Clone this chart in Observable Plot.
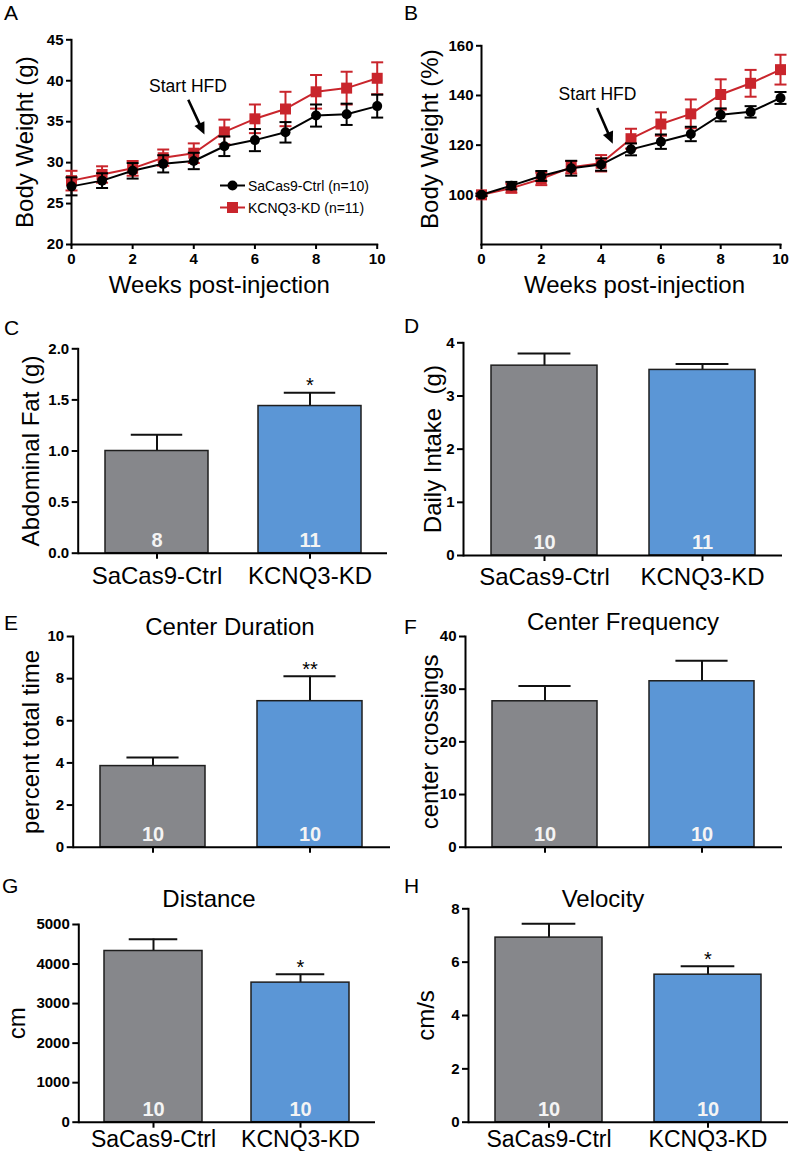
<!DOCTYPE html>
<html>
<head>
<meta charset="utf-8">
<script src="https://cdn.jsdelivr.net/npm/d3@7"></script>
<script src="https://cdn.jsdelivr.net/npm/@observablehq/plot@0.6"></script>
<style>
  html, body { margin: 0; padding: 0; background: #fff; overflow: hidden; }
  #root { position: relative; width: 790px; height: 1151px; font-family: 'Liberation Sans', Arial, Helvetica, sans-serif; }
  #root svg { position: absolute; }
  #root text { white-space: pre; }
  #root g[aria-label="y-axis tick label"] text,
  #root g[aria-label="y-axis tick label"] { font-weight: bold; }
  #root svg.lc g[aria-label="x-axis tick label"] text,
  #root svg.lc g[aria-label="x-axis tick label"] { font-weight: bold; }
</style>
</head>
<body>
<div id="root"></div>
<script>
// ---------------- DATA ----------------
const weeks = [0, 1, 2, 3, 4, 5, 6, 7, 8, 9, 10];
const weekTicks = [0, 2, 4, 6, 8, 10];
const seriesNames = ["SaCas9-Ctrl (n=10)", "KCNQ3-KD (n=11)"];

const ctrlWeight    = [27.1, 27.8, 29.0, 29.85, 30.2, 32.0, 32.75, 33.7, 35.75, 35.9, 36.9];
const ctrlWeightErr = [1.1, 0.9, 0.95, 1.05, 1.0, 1.2, 1.35, 1.25, 1.35, 1.3, 1.4];
const kdWeight      = [27.8, 28.55, 29.3, 30.6, 31.15, 33.75, 35.35, 36.55, 38.65, 39.1, 40.3];
const kdWeightErr   = [1.2, 1.0, 0.9, 1.0, 1.2, 1.5, 1.75, 2.1, 2.05, 2.0, 1.95];
const weightTicks   = [20, 25, 30, 35, 40, 45];

const ctrlPct    = [100, 103.7, 107.6, 110.7, 112.2, 118.3, 121.4, 124.5, 132.2, 133.4, 139.0];
const ctrlPctErr = [0.5, 1.5, 2.0, 3.0, 2.5, 2.4, 2.9, 2.9, 2.6, 2.3, 2.4];
const kdPct      = [100, 102.7, 106.4, 111.1, 112.7, 122.6, 128.5, 132.6, 140.4, 144.9, 150.4];
const kdPctErr   = [0.5, 1.8, 2.5, 2.5, 3.3, 4.0, 4.7, 5.8, 6.1, 5.4, 6.0];
const pctTicks   = [100, 120, 140, 160];

// "Start HFD" annotations (data units)
const hfdNoteA  = {label: "Start HFD", x: 3.81, y: 39.3, x1: 3.82, y1: 37.67, x2: 4.35, y2: 33.43};
const hfdNoteB  = {label: "Start HFD", x: 3.88, y: 140.4, x1: 3.87, y1: 135.0, x2: 4.39, y2: 120.55};

const groups = ["SaCas9-Ctrl", "KCNQ3-KD"];

const fatMean = [1.0, 1.44],   fatErr = [0.16, 0.13],  fatN = [8, 11],   fatStars = ["", "*"];
const fatTicks = [0, 0.5, 1.0, 1.5, 2.0];
const intakeMean = [3.57, 3.49], intakeErr = [0.23, 0.11], intakeN = [10, 11], intakeStars = ["", ""];
const intakeTicks = [0, 1, 2, 3, 4];
const durMean = [3.85, 6.93],  durErr = [0.41, 1.18],  durN = [10, 10],  durStars = ["", "**"];
const durTicks = [0, 2, 4, 6, 8, 10];
const freqMean = [27.7, 31.5], freqErr = [2.9, 3.9],   freqN = [10, 10], freqStars = ["", ""];
const freqTicks = [0, 10, 20, 30, 40];
const distMean = [4330, 3530], distErr = [300, 210],   distN = [10, 10], distStars = ["", "*"];
const distTicks = [0, 1000, 2000, 3000, 4000, 5000];
const velMean = [6.92, 5.53],  velErr = [0.52, 0.32],  velN = [10, 10],  velStars = ["", "*"];
const velTicks = [0, 2, 4, 6, 8];

// ---------------- STYLE ----------------
const FONT = "'Liberation Sans', Arial, Helvetica, sans-serif";
const RED = "#c9252c";
const GRAY = "#86878b";
const BLUE = "#5b96d6";
const TICKFONT = 15;
const root = document.getElementById("root");

function place(svg, left, top) {
  svg.style.left = left + "px";
  svg.style.top = top + "px";
  root.appendChild(svg);
}

// horizontal cap symbol (half-width = r)
const capSymbol = {
  draw(ctx, size) {
    const r = Math.sqrt(size / Math.PI);
    ctx.moveTo(-r, 0); ctx.lineTo(r, 0);
  }
};
// filled arrow head, tip at origin, pointing along angle (deg from vertical-down toward right)
function arrowHead(angleDeg, len, half) {
  const a = angleDeg * Math.PI / 180, ux = Math.sin(a), uy = Math.cos(a);
  const px = -uy, py = ux;
  return {
    draw(ctx) {
      const bx = -ux * len, by = -uy * len;
      ctx.moveTo(0, 0);
      ctx.lineTo(bx + px * half, by + py * half);
      ctx.lineTo(bx - px * half, by - py * half);
      ctx.closePath();
    }
  };
}

function margins(p) {
  return {
    width: p.width, height: p.height,
    marginLeft: p.x0 - p.left,
    marginRight: p.left + p.width - p.x1,
    marginTop: p.yTop - p.top,
    marginBottom: p.top + p.height - p.yBot
  };
}

function rowsOf(vals, errs) {
  return weeks.map((w, i) => ({week: w, v: vals[i], lo: vals[i] - errs[i], hi: vals[i] + errs[i]}));
}

function seriesMarks(rows, color, symbol, r) {
  return [
    Plot.ruleX(rows, {x: "week", y1: "lo", y2: "hi", stroke: color, strokeWidth: 2}),
    Plot.dot(rows, {x: "week", y: "lo", symbol: capSymbol, r: 6, stroke: color, strokeWidth: 2, fill: "none"}),
    Plot.dot(rows, {x: "week", y: "hi", symbol: capSymbol, r: 6, stroke: color, strokeWidth: 2, fill: "none"}),
    Plot.line(rows, {x: "week", y: "v", stroke: color, strokeWidth: 2}),
    Plot.dot(rows, {x: "week", y: "v", symbol, r, fill: color, stroke: "none"})
  ];
}

function lineChart(p) {
  const ctrl = rowsOf(p.ctrl, p.ctrlErr);
  const kd = rowsOf(p.kd, p.kdErr);
  const n = p.note;
  const shaft = {x1: n.x1, y1: n.y1, x2: n.x1 + 0.8 * (n.x2 - n.x1), y2: n.y1 + 0.8 * (n.y2 - n.y1)};
  const svg = Plot.plot({
    ...margins(p),
    className: "lc",
    x: {domain: [0, 10], label: null},
    y: {domain: p.domain, label: null},
    style: {fontFamily: FONT, background: "transparent", color: "#000", overflow: "visible"},
    marks: [
      Plot.axisY({ticks: p.yTicks, tickSize: 5, tickPadding: 3, fontSize: TICKFONT, fontWeight: "bold", strokeWidth: 2, label: null}),
      Plot.axisX({ticks: weekTicks, tickSize: 5, tickPadding: 4, fontSize: TICKFONT, fontWeight: "bold", strokeWidth: 2, label: null}),
      Plot.frame({anchor: "left", strokeWidth: 2}),
      Plot.frame({anchor: "bottom", strokeWidth: 2}),
      Plot.text([p.ylabel], {frameAnchor: "left", dx: p.ylabelX - p.x0, dy: p.ylabelDy || 0, rotate: -90, textAnchor: "middle", fontSize: 24}),
      Plot.text(["Weeks post-injection"], {frameAnchor: "bottom", dx: p.xlabelDx, dy: 31, lineAnchor: "top", textAnchor: "middle", fontSize: 24}),
      ...seriesMarks(kd, RED, "square", 6.2),
      ...seriesMarks(ctrl, "#000", "circle", 5),
      Plot.text([n], {x: "x", y: "y", text: "label", fontSize: 17.5}),
      Plot.link([shaft], {x1: "x1", y1: "y1", x2: "x2", y2: "y2", stroke: "#000", strokeWidth: 2.6}),
      Plot.dot([n], {x: "x2", y: "y2", symbol: arrowHead(p.arrowAngle, 12, 5.5), r: 5, fill: "#000", stroke: "none"})
    ]
  });
  place(svg, p.left, p.top);
}

function barChart(p) {
  const rows = groups.map((g, i) => ({group: g, mean: p.mean[i], errTop: p.mean[i] + p.err[i], n: String(p.n[i]), star: p.stars[i]}));
  const pi = 0.33, po = 0.17;
  const step = (p.x1 - p.x0) / (groups.length - pi + 2 * po);
  const bw = step * (1 - pi);
  const svg = Plot.plot({
    ...margins(p),
    x: {type: "band", domain: groups, paddingInner: pi, paddingOuter: po, label: null},
    y: {domain: p.domain, label: null},
    color: {domain: groups, range: [GRAY, BLUE]},
    style: {fontFamily: FONT, background: "transparent", color: "#000", overflow: "visible"},
    marks: [
      Plot.axisY({ticks: p.ticks, tickFormat: p.tickFormat, tickSize: 6, tickPadding: 3, fontSize: TICKFONT, fontWeight: "bold", strokeWidth: 2, label: null}),
      Plot.axisX({tickSize: 6, tickPadding: p.catPad || 4, fontSize: p.catSize || 24, strokeWidth: 2, label: null,
                  tickFormat: p.showCats ? (d => d) : (() => "")}),
      Plot.ruleX(rows, {x: "group", y1: "mean", y2: "errTop", stroke: "#111", strokeWidth: 2}),
      Plot.tickY(rows, {x: "group", y: "errTop", insetLeft: bw / 4, insetRight: bw / 4, stroke: "#111", strokeWidth: 2}),
      Plot.barY(rows, {x: "group", y: "mean", fill: "group", stroke: "#1e1e1e", strokeWidth: 1.5, inset: 0}),
      Plot.frame({anchor: "left", strokeWidth: 2}),
      Plot.ruleY([p.domain[0]], {strokeWidth: 2}),
      Plot.text(rows, {x: "group", y: () => p.domain[0], text: "n", dy: -13, fill: "#f4f4f4", fontWeight: "bold", fontSize: 20}),
      Plot.text(rows, {x: "group", y: "errTop", text: "star", dy: -7, fontSize: 20}),
      Plot.text([p.ylabel], {frameAnchor: "left", dx: p.ylabelX - p.x0, dy: p.ylabelDy || 0, rotate: -90, textAnchor: "middle", fontSize: 24})
    ]
  });
  place(svg, p.left, p.top);
}

// ---------------- PANELS ----------------
lineChart({left: 0, top: 0, width: 395, height: 300, x0: 71, x1: 376.7, yTop: 39.3, yBot: 244,
  domain: [20, 45], yTicks: weightTicks, ctrl: ctrlWeight, ctrlErr: ctrlWeightErr, kd: kdWeight, kdErr: kdWeightErr,
  ylabel: "Body Weight (g)", ylabelX: 24.5, ylabelDy: 0, xlabelDx: -5, note: hfdNoteA, arrowAngle: 25});

lineChart({left: 400, top: 0, width: 390, height: 300, x0: 481, x1: 780, yTop: 45.3, yBot: 244,
  domain: [80, 160], yTicks: pctTicks, ctrl: ctrlPct, ctrlErr: ctrlPctErr, kd: kdPct, kdErr: kdPctErr,
  ylabel: "Body Weight (%)", ylabelX: 429.5, ylabelDy: -6, xlabelDx: 3.5, note: hfdNoteB, arrowAngle: 23.4});

barChart({left: 0, top: 300, width: 395, height: 290, x0: 77.7, x1: 387, yTop: 348.3, yBot: 552.7,
  domain: [0, 2], ticks: fatTicks, tickFormat: d3.format(".1f"), mean: fatMean, err: fatErr, n: fatN, stars: fatStars,
  ylabel: "Abdominal Fat (g)", ylabelX: 31, showCats: true, catPad: 8});

barChart({left: 400, top: 300, width: 390, height: 290, x0: 463, x1: 782, yTop: 342.3, yBot: 555,
  domain: [0, 4], ticks: intakeTicks, tickFormat: d3.format("d"), mean: intakeMean, err: intakeErr, n: intakeN, stars: intakeStars,
  ylabel: "Daily Intake  (g)", ylabelX: 433, showCats: true, catPad: 6});

barChart({left: 0, top: 590, width: 395, height: 280, x0: 72.7, x1: 390, yTop: 636, yBot: 846.7,
  domain: [0, 10], ticks: durTicks, tickFormat: d3.format("d"), mean: durMean, err: durErr, n: durN, stars: durStars,
  ylabel: "percent total time", ylabelX: 31, showCats: false});

barChart({left: 400, top: 590, width: 390, height: 280, x0: 465, x1: 782, yTop: 636, yBot: 846.7,
  domain: [0, 40], ticks: freqTicks, tickFormat: d3.format("d"), mean: freqMean, err: freqErr, n: freqN, stars: freqStars,
  ylabel: "center crossings", ylabelX: 429.5, showCats: false});

barChart({left: 0, top: 870, width: 395, height: 281, x0: 78.3, x1: 375, yTop: 924, yBot: 1121.7,
  domain: [0, 5000], ticks: distTicks, tickFormat: d3.format("d"), mean: distMean, err: distErr, n: distN, stars: distStars,
  ylabel: "cm", ylabelX: 17, showCats: true, catPad: 2, catSize: 23});

barChart({left: 400, top: 870, width: 390, height: 281, x0: 468, x1: 788, yTop: 908.3, yBot: 1121.7,
  domain: [0, 8], ticks: velTicks, tickFormat: d3.format("d"), mean: velMean, err: velErr, n: velN, stars: velStars,
  ylabel: "cm/s", ylabelX: 426, showCats: true, catPad: 2, catSize: 23});

// ---------------- OVERLAY: panel letters, titles, legend ----------------
const NS = "http://www.w3.org/2000/svg";
const ov = document.createElementNS(NS, "svg");
ov.setAttribute("width", 790); ov.setAttribute("height", 1151);
ov.style.left = "0px"; ov.style.top = "0px"; ov.style.pointerEvents = "none";
ov.style.fontFamily = FONT;
root.appendChild(ov);
function addText(str, x, y, size, anchor) {
  const t = document.createElementNS(NS, "text");
  t.setAttribute("x", x); t.setAttribute("y", y);
  t.setAttribute("font-size", size); t.setAttribute("text-anchor", anchor || "start");
  t.setAttribute("fill", "#000");
  t.textContent = str; ov.appendChild(t);
}
function addEl(tag, attrs) {
  const e = document.createElementNS(NS, tag);
  for (const k in attrs) e.setAttribute(k, attrs[k]);
  ov.appendChild(e);
}
const panelLetters = [["A", 4, 20], ["B", 404, 20], ["C", 4, 335], ["D", 404, 333],
                      ["E", 4, 630], ["F", 404, 634], ["G", 2, 893], ["H", 404, 893]];
panelLetters.forEach(([s, x, y]) => addText(s, x, y, 21));
const titles = [["Center Duration", 230, 635], ["Center Frequency", 623, 630], ["Distance", 209, 907], ["Velocity", 603, 907]];
titles.forEach(([s, x, y]) => addText(s, x, y, 24, "middle"));

// legend (panel A)
addEl("line", {x1: 220, x2: 245, y1: 185.5, y2: 185.5, stroke: "#000", "stroke-width": 2});
addEl("circle", {cx: 232.5, cy: 185.5, r: 5, fill: "#000"});
addText(seriesNames[0], 248, 190.5, 14);
addEl("line", {x1: 220, x2: 245, y1: 207.5, y2: 207.5, stroke: RED, "stroke-width": 2});
addEl("rect", {x: 227, y: 202, width: 11, height: 11, fill: RED});
addText(seriesNames[1], 248, 212.5, 14);
</script>
</body>
</html>
